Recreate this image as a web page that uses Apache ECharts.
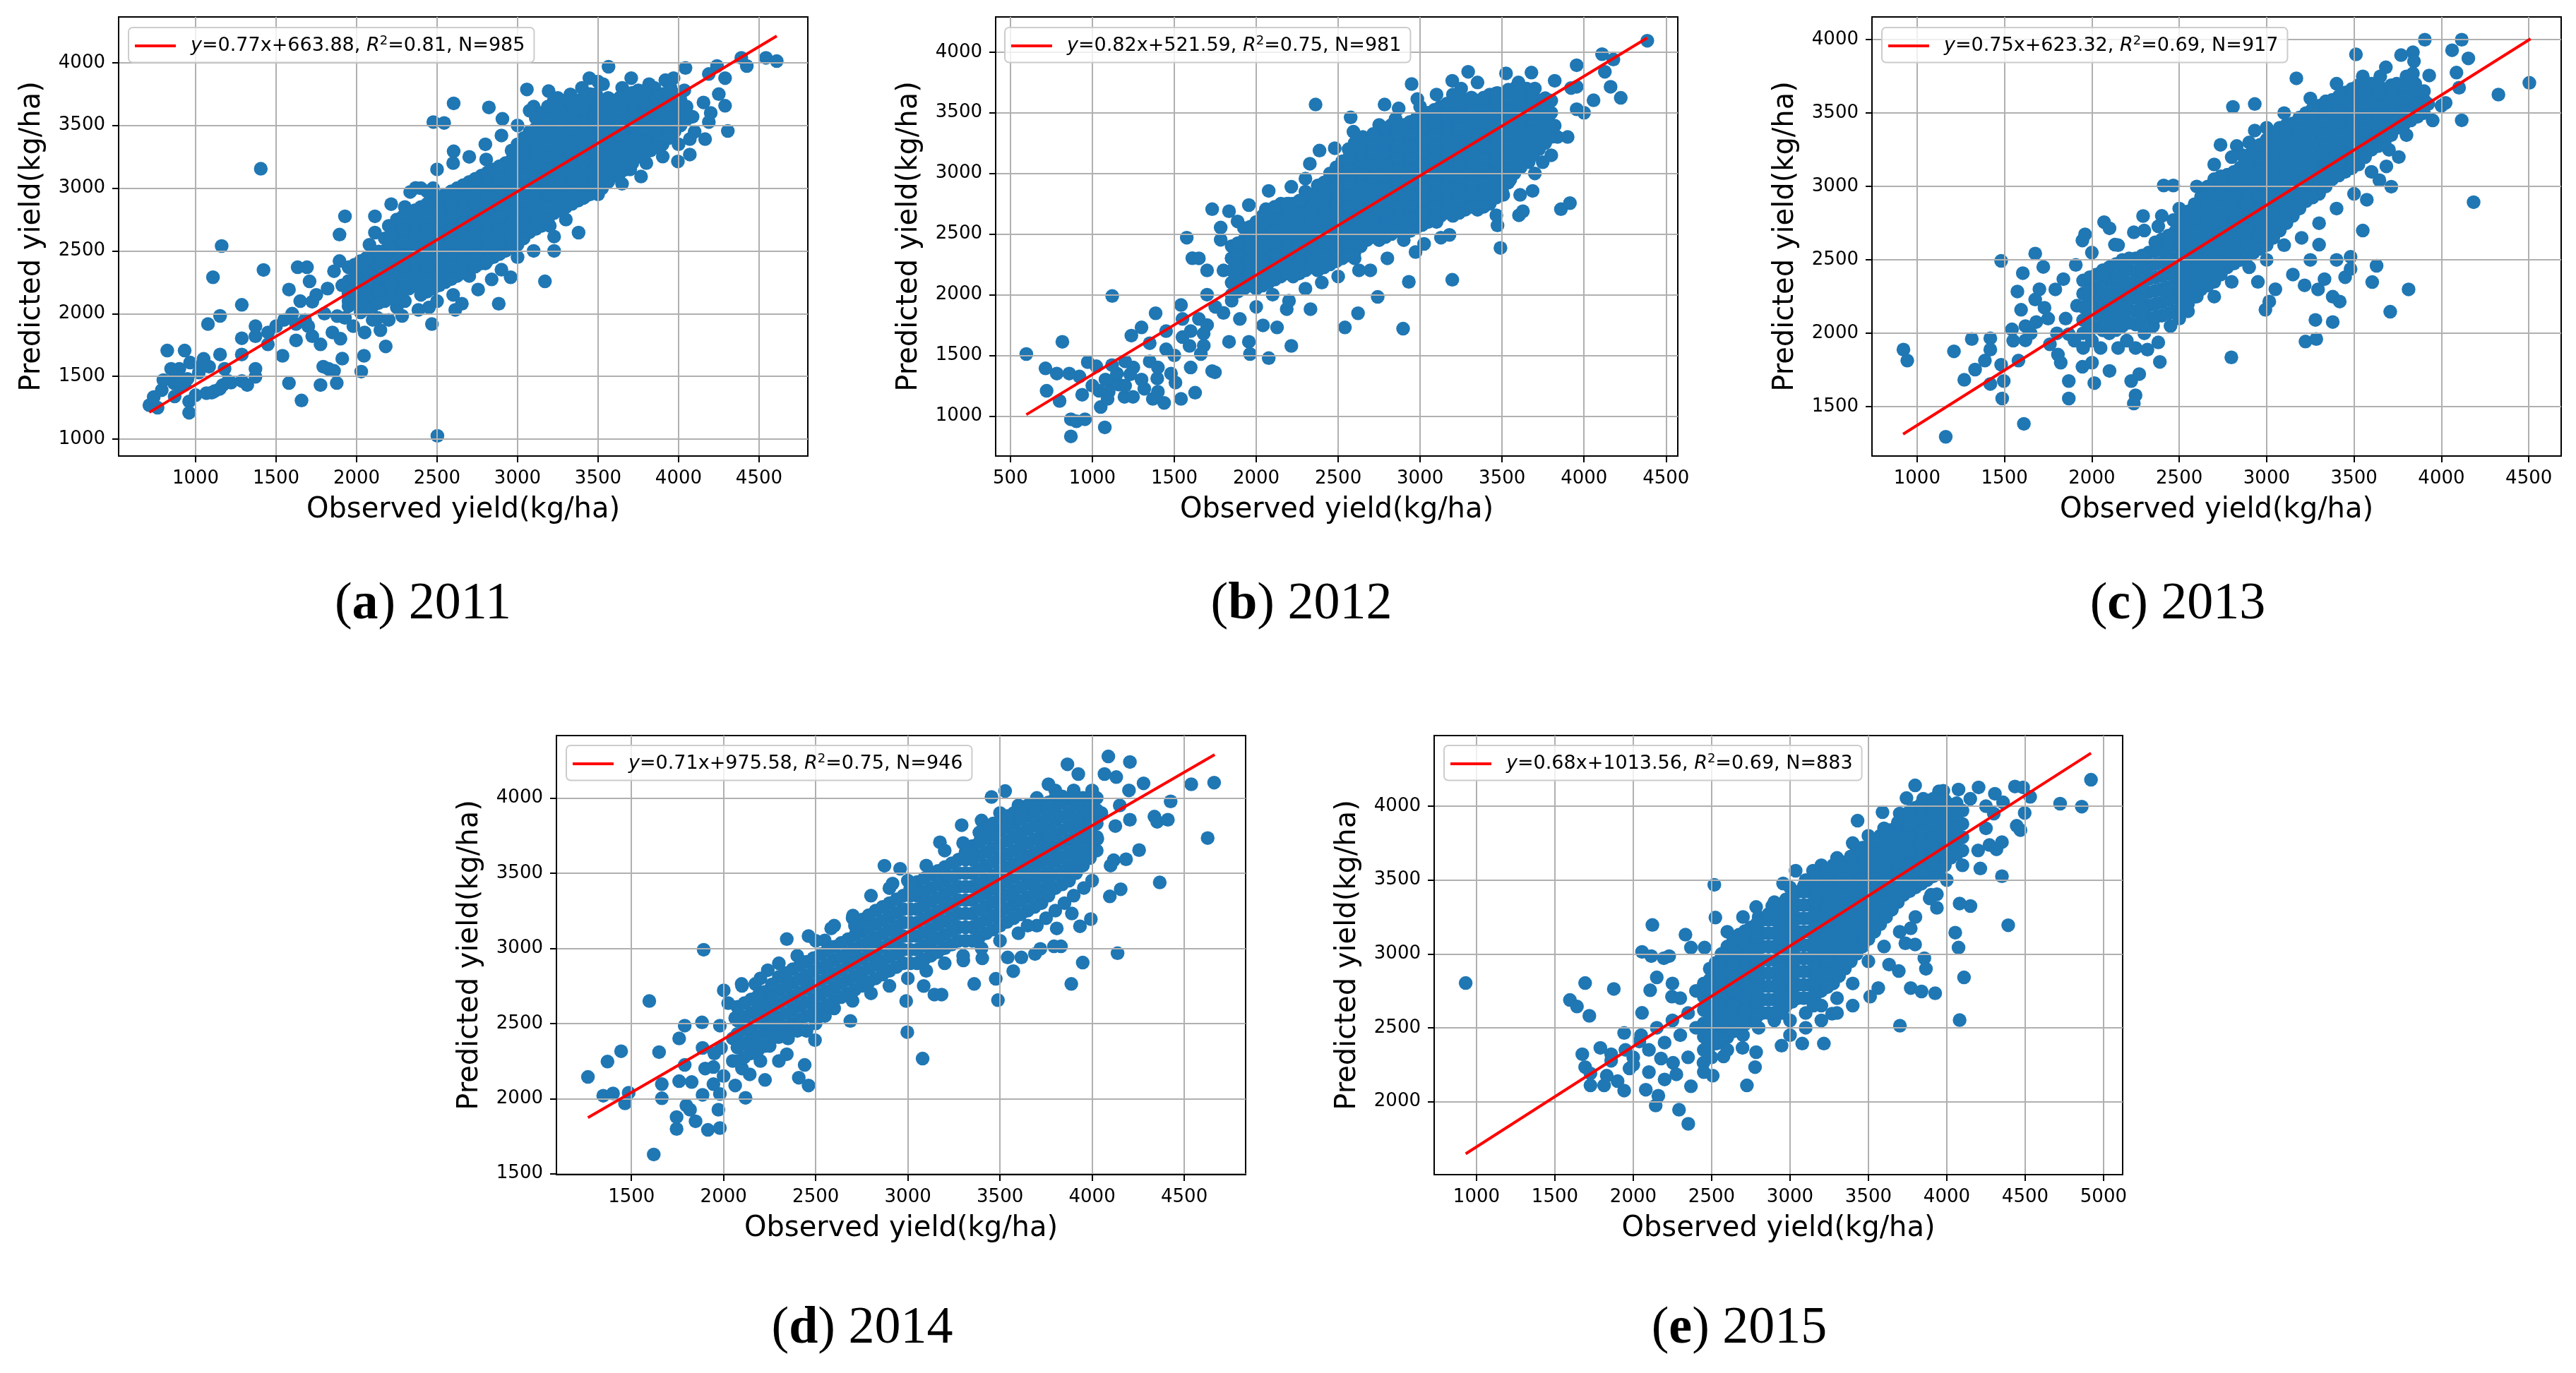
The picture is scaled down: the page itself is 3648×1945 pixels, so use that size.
<!DOCTYPE html>
<html lang="en">
<head>
<meta charset="UTF-8">
<title>Observed vs predicted yield</title>
<style>
    * { margin: 0; padding: 0; }
    body { background: #fff; }
    #main { width: 3648px; height: 1945px; }
</style>
<script src="https://cdn.jsdelivr.net/npm/echarts@6.0.0/dist/echarts.min.js"></script>
</head>
<body>
<div id="main"></div>
<script>
// ---------- values ----------
var years = ['2011', '2012', '2013', '2014', '2015'];
var letters = ['a', 'b', 'c', 'd', 'e'];
var fitText = ['0.77x+663.88', '0.82x+521.59', '0.75x+623.32', '0.71x+975.58', '0.68x+1013.56'];
var r2Text = ['0.81', '0.75', '0.69', '0.75', '0.69'];
var counts = [985, 981, 917, 946, 883];
// ends of the red fit line, [x0, x1] and [y0, y1]
var lineX = [[713, 4610], [597, 4385], [920, 4510], [1264, 4665], [931, 4920]];
var lineY = [[1213, 4213], [1011, 4117], [1313, 4006], [1873, 4288], [1647, 4359]];
var xTicks = [
    [1000, 1500, 2000, 2500, 3000, 3500, 4000, 4500],
    [500, 1000, 1500, 2000, 2500, 3000, 3500, 4000, 4500],
    [1000, 1500, 2000, 2500, 3000, 3500, 4000, 4500],
    [1500, 2000, 2500, 3000, 3500, 4000, 4500],
    [1000, 1500, 2000, 2500, 3000, 3500, 4000, 4500, 5000]
];
var yTicks = [
    [1000, 1500, 2000, 2500, 3000, 3500, 4000],
    [1000, 1500, 2000, 2500, 3000, 3500, 4000],
    [1500, 2000, 2500, 3000, 3500, 4000],
    [1500, 2000, 2500, 3000, 3500, 4000],
    [2000, 2500, 3000, 3500, 4000]
];

// loose points [observed, predicted]
var pts2011 = [[713,1270],[740,1335],[764,1250],[824,1706],[932,1706],[848,1560],[899,1560],[966,1610],[865,1447],[932,1431],[960,1300],[960,1210],[1050,1640],[1084,1577],[1067,1366],[1118,1382],[1108,2290],[1162,2539],[1152,1982],[1077,1917],[1152,1674],[1169,1431],[1203,1463],[1287,2070],[1287,1804],[1287,1674],[1287,1463],[1321,1431],[1372,1496],[1372,1560],[1372,1900],[1372,1820],[1405,3155],[1422,2348],[1449,1755],[1500,1900],[1540,1664],[1580,1447],[1580,2192],[1634,2370],[1624,1917],[1624,1787],[1658,1308],[1692,2370],[1708,2257],[1725,2095],[1725,1820],[1776,1431],[1776,1755],[1793,1577],[1826,1560],[1860,1544],[1877,1447],[1860,2338],[1894,2630],[1928,2776],[1894,2419],[1911,2225],[1911,1641],[1928,1966],[1995,2290],[2029,1538],[2046,1664],[2080,2549],[2114,2776],[2114,2646],[2131,1966],[2148,1868],[2181,1739],[2215,2873],[2283,1982],[2333,2970],[2367,3002],[2384,2030],[2468,1917],[2502,1026],[2477,3527],[2544,3520],[2603,3676],[2603,3294],[2613,2030],[2654,2079],[2755,2192],[2822,3644],[2805,3229],[2839,2273],[2883,2079],[2906,3553],[2957,2290],[3170,2257],[3227,2614],[3227,2500],[3379,2646],[3406,2921],[3531,3067],[3565,3968],[3649,3035],[3767,3093],[3902,3252],[3996,3213],[4043,3958],[4070,3268],[4070,3391],[4087,3569],[4155,3683],[4165,3391],[4188,3527],[4239,3974],[4289,3657],[4306,3456],[4289,3877],[4188,3910],[4390,4039],[4424,3974],[4543,4039],[4610,4013],[3969,3877],[4036,3780],[3918,3861],[3817,3829],[3706,3877],[3446,3877],[3531,3829],[3328,3748],[3193,3774],[3058,3787],[3075,3618],
    [790,1390],[870,1340],[900,1420],[1000,1350],[1020,1530],[1100,1370],[1150,1400],[800,1470],[1030,1580],[880,1500],[1220,1450],[1180,1560],[950,1480],
    [1600,2000],[1680,1950],[1750,2150],[1800,2000],[1850,1850],[1900,1800],[1950,2100],[1820,2200],[1650,2100],[1550,1950],[1450,1850],[1700,1900],[1880,1980],[1980,1900],[2050,1850],[2100,1950],[2200,1950],[2250,2050],[2300,2100],[2450,2050],[2500,2100],[2600,2150],[2700,2300],[2800,2400],[2900,2350],[3000,2450],[3100,2500],[3200,2700],[3300,2750],[3500,2950],[3600,3100],[3700,3150],[3800,3200],[3900,3350],[4000,3350],[4100,3450],[4200,3600],[4250,3750],[2200,2700],[2300,2850],[2400,3000],[2500,3150],[2600,3200],[2700,3250],[2800,3350],[2900,3420],[3000,3500],[3100,3650],[3250,3720],[3400,3800],[3500,3850],[3650,3800],[3750,3780],[3850,3800],[3950,3800]];
var pts2012 = [[597,1511],[714,1393],[721,1208],[783,1350],[800,1124],[817,1612],[859,1350],[869,973],[869,832],[903,956],[938,1175],[955,973],[972,1444],[921,1326],[1024,1410],[1041,1208],[1051,1074],[1076,906],[1093,1141],[1121,1989],[1128,1293],[1162,1259],[1196,1158],[1231,1343],[1248,1158],[1238,1663],[1300,1730],[1317,1225],[1369,1141],[1386,1847],[1396,1309],[1438,1108],[1507,1276],[1541,1141],[1541,1915],[1576,2470],[1593,1578],[1627,1192],[1610,2301],[1662,1511],[1679,1679],[1731,1370],[1748,1360],[1731,2705],[1783,2554],[1783,2453],[1834,2688],[1834,1612],[1886,2604],[1955,2739],[1938,2419],[1955,1612],[1962,1511],[2041,1747],[2076,1477],[2076,2856],[2059,2705],[2127,1730],[2214,1578],[2186,1881],[2214,2890],[2300,2957],[2327,3080],[2362,3568],[2331,1881],[2386,3188],[2479,3208],[2541,1730],[2621,1847],[2576,3462],[2627,2201],[2696,2201],[2741,1982],[2783,3568],[2869,3536],[2896,1720],[2931,2106],[2948,3737],[2983,3613],[2972,2352],[3024,2419],[3196,2123],[3127,2470],[3179,2493],[3293,3838],[3196,3764],[3490,2386],[3472,2571],[3465,2655],[3507,2823],[3524,3825],[3576,3058],[3603,2655],[3627,2688],[3610,2823],[3662,3092],[3686,2856],[3748,3092],[3627,3226],[3859,2705],[3914,2755],[3955,3714],[3955,3529],[3955,3892],[3921,3704],[4058,3603],[4110,3983],[4127,3838],[4162,3714],[4179,3939],[4224,3623],[4386,4094],[3838,3300],[3821,3394],[3769,3596],[3821,3764],[3679,3831],[2593,3344],[2748,3092],[3403,3596],[3472,3663],
    [1000,1250],[1080,1300],[1100,1200],[1150,1350],[1200,1250],[1250,1400],[1300,1300],[1350,1450],[1400,1400],[1450,1550],[1500,1500],[1550,1650],[1600,1700],[1650,1800],[1700,1750],[1750,1900],[1800,1850],[1850,1950],[1700,2000],[1800,2200],[1850,2300],[1900,2100],[1650,2300],[1700,2200],[1550,1800],[1450,1700],[1350,1600],[1200,1450],[1120,1420],[1400,1200],[1480,1350],[1600,1400],[1680,1580],[1900,1800],[2000,1900],[2100,2000],[2200,1950],[2300,2050],[2400,2100],[2500,2150],[2600,2300],[2800,2300],[2900,2450],[3100,2600],[3300,2750],[3400,2800],[3550,2950],[3700,3000],[3800,3150],[3900,3300],[4000,3500],[2000,2600],[2100,2700],[2200,2750],[2300,2850],[2450,3000],[2650,3300],[2750,3400],[2850,3450],[3000,3550],[3100,3650],[3250,3700],[3350,3750],[3600,3750],[3700,3700]];
var pts2013 = [[922,1889],[944,1814],[1164,1295],[1211,1877],[1270,1683],[1313,1961],[1332,1753],[1388,1814],[1419,1966],[1419,1889],[1419,1655],[1481,2493],[1481,1786],[1487,1556],[1496,1675],[1543,2027],[1580,1814],[1574,2285],[1595,2160],[1605,2410],[1611,1383],[1620,2049],[1620,1952],[1676,2230],[1676,2543],[1682,2077],[1722,2452],[1729,2174],[1760,1925],[1791,2299],[1806,1855],[1822,1800],[1837,2369],[1868,1994],[1868,1556],[1868,1675],[1908,2466],[1915,2188],[1946,2632],[1961,2674],[1946,1772],[2014,1661],[2001,1800],[2070,2757],[2101,2715],[2101,1744],[2132,2604],[2225,1675],[2240,1522],[2250,1578],[2271,1722],[2240,2688],[2293,2799],[2380,2729],[2389,1805],[2380,1938],[2318,1889],[2411,3007],[2466,3007],[2466,2771],[2798,1836],[2807,3542],[2932,3562],[2932,3381],[2736,3284],[2829,3276],[2857,3215],[2993,2160],[3015,2216],[3170,3737],[3217,2327],[3222,1944],[3279,2091],[3284,1961],[3294,2299],[3300,2604],[3331,2369],[3378,2249],[3378,2077],[3418,2216],[3449,2382],[3480,2521],[3480,2438],[3511,3900],[3604,2349],[3629,2460],[3707,2147],[3812,2299],[3713,2999],[3645,3043],[3573,2910],[3685,3137],[3756,3201],[3769,3895],[3837,3914],[3905,4000],[3843,3853],[3837,3770],[3930,3756],[3924,3562],[4024,3570],[4061,3928],[4116,4000],[4086,3776],[4154,3873],[4101,3673],[4116,3451],[4184,2893],[4326,3626],[4503,3706],[3682,3812],[3744,3700],
    [1800,2000],[1750,2100],[1850,2100],[1900,1950],[1950,1900],[2000,1950],[2050,1900],[2150,1900],[2200,1950],[2250,1900],[2300,2000],[2350,2050],[2450,2050],[2500,2100],[2550,2150],[2600,2250],[2700,2250],[2800,2350],[2900,2450],[3000,2500],[3100,2600],[3200,2650],[3300,2750],[3400,2850],[3500,2950],[3600,3100],[3700,3250],[3800,3350],[3950,3450],[4000,3550],[2000,2550],[2150,2600],[2300,2700],[2400,2800],[2500,2850],[2600,3000],[2700,3150],[2800,3200],[2900,3300],[3000,3400],[3100,3500],[3250,3600],[3400,3700],[3550,3750],[3650,3750],[3800,3750],[3850,3700],[1700,2300],[1650,2000],[1550,1950],[3550,2700],[3400,2500],[3250,2500],[3150,2400],[3050,2300],[2950,2350]];
var pts2014 = [[1264,2144],[1347,2019],[1370,2246],[1400,2034],[1444,2315],[1465,1968],[1485,2039],[1597,2649],[1621,1628],[1650,2309],[1665,2096],[1665,2002],[1745,1798],[1745,1877],[1759,2400],[1759,2116],[1789,2485],[1789,2224],[1798,1954],[1818,1926],[1827,2110],[1848,1849],[1892,2990],[1883,2507],[1886,2025],[1886,2337],[1915,1792],[1945,2210],[1945,2096],[1972,1926],[1980,2485],[1980,1804],[1980,2031],[1986,2337],[2001,2720],[2025,2635],[2063,2087],[2063,2536],[2098,2763],[2119,2005],[2142,2161],[2172,2763],[2181,2337],[2225,2124],[2240,2854],[2233,2664],[2299,2408],[2343,2295],[2343,3061],[2408,2139],[2440,2224],[2461,2087],[2461,3081],[2496,2389],[2549,3052],[2584,3132],[2688,2516],[2702,3217],[2873,3549],[2958,3529],[2917,3430],[2997,2442],[2991,2649],[3080,2266],[3086,2749],[3144,2692],[3174,3705],[3183,2692],[3292,3819],[3301,2919],[3360,2763],[3404,2933],[3477,2797],[3489,2655],[3454,4006],[3528,4046],[3542,2939],[3572,2848],[3616,2939],[3690,2962],[3719,2996],[3763,4091],[3793,3013],[3831,3013],[3808,3132],[3866,4224],[3925,4159],[3890,3231],[3934,3146],[3949,2905],[3887,2763],[3993,3194],[3955,3401],[4067,4159],[4088,4276],[4096,3345],[4117,3586],[4138,2967],[4155,3393],[4184,3592],[4205,4239],[4205,3855],[4255,3653],[4279,4097],[4338,3876],[4353,3841],[4367,3438],[4411,3855],[4426,3977],[4538,4091],[4627,3733],[4662,4102],[4131,4139],[4028,3728],[4126,3813],
    [1900,2200],[1950,2300],[2000,2150],[2050,2250],[2050,2400],[2100,2200],[2150,2450],[2200,2250],[2250,2350],[2300,2250],[2350,2400],[2400,2450],[2450,2450],[2500,2500],[2550,2550],[2600,2600],[2700,2650],[2800,2700],[2900,2750],[3000,2800],[3100,2850],[3200,2900],[3300,2950],[3400,3000],[3500,3050],[3600,3100],[3700,3150],[3800,3250],[3900,3350],[4000,3450],[4100,3550],[4050,3900],[4150,3950],[4200,4050],[2100,2750],[2200,2800],[2300,2900],[2400,2950],[2500,3050],[2600,3150],[2700,3200],[2800,3350],[2900,3400],[3000,3450],[3100,3550],[3200,3650],[3300,3700],[3400,3850],[3500,3900],[3600,3950],[3700,4000],[3800,4050],[3900,4050],[4000,4050],[3750,3200],[3850,3300],[3650,3150]];
var pts2015 = [[931,2803],[1596,2688],[1641,2644],[1675,2321],[1693,2803],[1720,2581],[1693,2234],[1727,2191],[1727,2110],[1790,2364],[1814,2110],[1831,2176],[1859,2277],[1859,2321],[1876,2763],[1900,2139],[1942,2075],[1942,2465],[1976,2225],[2039,2407],[2056,2601],[2056,3014],[2080,2081],[2108,2754],[2115,2985],[2122,3196],[2143,1974],[2150,2841],[2160,2040],[2177,2292],[2195,2971],[2229,2985],[2247,2711],[2254,2263],[2275,2185],[2292,1945],[2333,3130],[2351,1850],[2368,2104],[2368,3043],[2448,2263],[2455,3043],[2507,2176],[2517,3468],[2524,3246],[2531,2393],[2576,2306],[2600,2436],[2697,2364],[2725,2110],[2777,2234],[2784,2335],[2784,3318],[2887,3324],[2946,2379],[2956,3477],[3036,3563],[3078,2393],[3216,2393],[3147,3563],[3268,2595],[3431,3902],[3511,2711],[3563,2769],[3590,3959],[3632,2928],[3694,2884],[3701,2514],[3770,2769],[3736,3072],[3798,3064],[3770,3173],[3839,2746],[3857,2971],[3867,2899],[3926,2734],[3937,3312],[3937,3404],[3891,3376],[4054,3144],[4075,3043],[4082,2552],[4110,2841],[4082,3341],[4151,3324],[4214,3578],[4352,3526],[4392,3194],[4352,3757],[4446,3867],[4470,3838],[4497,3954],[4532,4063],[4435,4133],[4487,4127],[4723,4017],[4861,3997],[4920,4179],[3798,4141],[4075,4113],[4203,4127],[4307,4084],[4359,4026],[4272,3737],[4317,3708],[3743,4055],[3978,4104],
    [2000,2300],[2050,2450],[2100,2350],[2150,2500],[2200,2400],[2250,2550],[2300,2450],[2350,2600],[2400,2500],[2250,2800],[2300,2700],[2400,2750],[2350,2300],[2200,2150],[2100,2200],[2000,2250],[1950,2350],[2450,2200],[2500,2300],[2600,2350],[2700,2450],[2800,2500],[2900,2550],[3000,2550],[3100,2600],[3200,2650],[3300,2700],[3400,2800],[3500,2950],[3600,3050],[3700,3150],[3800,3250],[3900,3400],[4000,3500],[4100,3600],[4200,3700],[4250,3850],[4300,3950],[4150,4050],[4250,4000],[2600,3150],[2700,3250],[2800,3250],[2900,3350],[3000,3450],[3100,3500],[3200,3600],[3300,3650],[3400,3750],[3500,3800],[3600,3850],[3700,3950],[3850,4050],[3950,4100],[3000,2450],[3100,2500],[3200,2550],[3300,2600],[3400,2650],[2950,2600],[3150,2650]];

// dense, fully overlapped band: each row is [observed, predicted, predicted, ...]
var core2011 = [
    [1950, 2060,2160,2260,2370],
    [2025, 2010,2110,2215,2320,2420],
    [2100, 2060,2160,2265,2370,2470],
    [2175, 2100,2200,2300,2400,2500,2600],
    [2250, 2150,2250,2350,2450,2550,2650,2750],
    [2325, 2200,2300,2400,2500,2600,2700,2800],
    [2400, 2150,2250,2350,2450,2550,2650,2750,2850],
    [2475, 2200,2300,2400,2500,2600,2700,2800,2900,3000],
    [2550, 2250,2350,2450,2550,2650,2750,2850,2950],
    [2625, 2300,2400,2500,2600,2700,2800,2900,3000],
    [2700, 2350,2450,2550,2650,2750,2850,2950,3050],
    [2775, 2400,2500,2600,2700,2800,2900,3000,3100],
    [2850, 2450,2550,2650,2750,2850,2950,3050,3150],
    [2925, 2500,2600,2700,2800,2900,3000,3100,3200],
    [3000, 2550,2650,2750,2850,2950,3050,3150,3250,3350],
    [3075, 2650,2750,2850,2950,3050,3150,3250,3350,3450],
    [3150, 2700,2800,2900,3000,3100,3200,3300,3400,3500,3600],
    [3225, 2800,2900,3000,3100,3200,3300,3400,3500,3600,3700],
    [3300, 2850,2950,3050,3150,3250,3350,3450,3550,3650],
    [3375, 2900,3000,3100,3200,3300,3400,3500,3600,3700],
    [3450, 2950,3050,3150,3250,3350,3450,3550,3650,3750],
    [3525, 3000,3100,3200,3300,3400,3500,3600,3700],
    [3600, 3100,3200,3300,3400,3500,3600,3700],
    [3675, 3150,3250,3350,3450,3550,3650,3750],
    [3750, 3250,3350,3450,3550,3650,3750],
    [3825, 3300,3400,3500,3600,3700,3800],
    [3900, 3350,3450,3550,3650,3750],
    [3975, 3450,3550,3650,3750],
    [4050, 3550,3650],
    [1988, 2085,2185,2285,2390],
    [2063, 2035,2135,2240,2345,2445],
    [2138, 2085,2185,2290,2395,2495],
    [2213, 2125,2225,2325,2425,2525,2625],
    [2288, 2175,2275,2375,2475,2575,2675,2775],
    [2363, 2225,2325,2425,2525,2625,2725,2825],
    [2438, 2175,2275,2375,2475,2575,2675,2775,2875,2975],
    [2513, 2225,2325,2425,2525,2625,2725,2825,2925],
    [2588, 2275,2375,2475,2575,2675,2775,2875,2975],
    [2663, 2325,2425,2525,2625,2725,2825,2925,3025],
    [2738, 2375,2475,2575,2675,2775,2875,2975,3075],
    [2813, 2425,2525,2625,2725,2825,2925,3025,3125],
    [2888, 2475,2575,2675,2775,2875,2975,3075,3175],
    [2963, 2525,2625,2725,2825,2925,3025,3125,3225,3300],
    [3038, 2600,2700,2800,2900,3000,3100,3200,3300,3400],
    [3113, 2675,2775,2875,2975,3075,3175,3275,3375,3475,3560],
    [3188, 2750,2850,2950,3050,3150,3250,3350,3450,3550,3650],
    [3263, 2825,2925,3025,3125,3225,3325,3425,3525,3625,3700],
    [3338, 2875,2975,3075,3175,3275,3375,3475,3575,3675],
    [3413, 2925,3025,3125,3225,3325,3425,3525,3625,3725],
    [3488, 2975,3075,3175,3275,3375,3475,3575,3675,3750],
    [3563, 3050,3150,3250,3350,3450,3550,3650,3720],
    [3638, 3125,3225,3325,3425,3525,3625,3725],
    [3713, 3200,3300,3400,3500,3600,3700,3760],
    [3788, 3275,3375,3475,3575,3675,3775],
    [3863, 3325,3425,3525,3625,3725],
    [3938, 3400,3500,3600,3700,3770],
    [4013, 3500,3600,3700]
];
var core2012 = [
    [1850, 2000,2100,2200,2300,2400],
    [1925, 2050,2150,2250,2350,2450,2550],
    [2000, 2050,2150,2250,2350,2450,2550],
    [2075, 2100,2200,2300,2400,2500,2600,2700],
    [2150, 2150,2250,2350,2450,2550,2650,2750],
    [2225, 2150,2250,2350,2450,2550,2650,2750],
    [2300, 2200,2300,2400,2500,2600,2700,2800],
    [2375, 2200,2300,2400,2500,2600,2700,2800,2900],
    [2450, 2250,2350,2450,2550,2650,2750,2850,2950],
    [2525, 2300,2400,2500,2600,2700,2800,2900,3000,3100],
    [2600, 2350,2450,2550,2650,2750,2850,2950,3050,3150,3250],
    [2675, 2450,2550,2650,2750,2850,2950,3050,3150,3250],
    [2750, 2450,2550,2650,2750,2850,2950,3050,3150,3250,3350],
    [2825, 2500,2600,2700,2800,2900,3000,3100,3200,3300,3400],
    [2900, 2500,2600,2700,2800,2900,3000,3100,3200,3300,3400],
    [2975, 2550,2650,2750,2850,2950,3050,3150,3250,3350,3450],
    [3050, 2600,2700,2800,2900,3000,3100,3200,3300,3400,3500],
    [3125, 2650,2750,2850,2950,3050,3150,3250,3350,3450,3550],
    [3200, 2650,2750,2850,2950,3050,3150,3250,3350,3450,3550,3650],
    [3275, 2700,2800,2900,3000,3100,3200,3300,3400,3500,3600],
    [3350, 2700,2800,2900,3000,3100,3200,3300,3400,3500,3600],
    [3425, 2750,2850,2950,3050,3150,3250,3350,3450,3550,3650],
    [3500, 2850,2950,3050,3150,3250,3350,3450,3550,3650],
    [3575, 3000,3100,3200,3300,3400,3500,3600,3700],
    [3650, 3100,3200,3300,3400,3500,3600,3700],
    [3725, 3200,3300,3400,3500,3600],
    [3800, 3300,3400,3500,3600],
    [1888, 2025,2125,2225,2325,2425],
    [1963, 2075,2175,2275,2375,2475,2560],
    [2038, 2075,2175,2275,2375,2475,2575,2650],
    [2113, 2125,2225,2325,2425,2525,2625,2725],
    [2188, 2175,2275,2375,2475,2575,2675,2750],
    [2263, 2175,2275,2375,2475,2575,2675,2775],
    [2338, 2225,2325,2425,2525,2625,2725,2825],
    [2413, 2225,2325,2425,2525,2625,2725,2825,2925],
    [2488, 2275,2375,2475,2575,2675,2775,2875,2975,3050],
    [2563, 2325,2425,2525,2625,2725,2825,2925,3025,3125,3200],
    [2638, 2400,2500,2600,2700,2800,2900,3000,3100,3200,3275],
    [2713, 2475,2575,2675,2775,2875,2975,3075,3175,3275,3325],
    [2788, 2475,2575,2675,2775,2875,2975,3075,3175,3275,3375],
    [2863, 2525,2625,2725,2825,2925,3025,3125,3225,3325,3400],
    [2938, 2525,2625,2725,2825,2925,3025,3125,3225,3325,3425],
    [3013, 2575,2675,2775,2875,2975,3075,3175,3275,3375,3475],
    [3088, 2625,2725,2825,2925,3025,3125,3225,3325,3425,3525],
    [3163, 2675,2775,2875,2975,3075,3175,3275,3375,3475,3575],
    [3238, 2675,2775,2875,2975,3075,3175,3275,3375,3475,3575,3640],
    [3313, 2725,2825,2925,3025,3125,3225,3325,3425,3525,3625],
    [3388, 2725,2825,2925,3025,3125,3225,3325,3425,3525,3625],
    [3463, 2800,2900,3000,3100,3200,3300,3400,3500,3600,3660],
    [3538, 2925,3025,3125,3225,3325,3425,3525,3625,3690],
    [3613, 3050,3150,3250,3350,3450,3550,3650,3700],
    [3688, 3150,3250,3350,3450,3550,3650],
    [3763, 3250,3350,3450,3550,3620]
];
var core2013 = [
    [1950, 2000,2090,2180,2270,2360],
    [2025, 2040,2130,2220,2310,2400],
    [2100, 2000,2090,2180,2270,2360,2450],
    [2175, 2050,2140,2230,2320,2410,2500],
    [2250, 2060,2150,2240,2330,2420,2510],
    [2325, 2100,2190,2280,2370,2460,2550],
    [2400, 2120,2210,2300,2390,2480,2570,2640],
    [2475, 2150,2240,2330,2420,2510,2600,2690],
    [2550, 2200,2290,2380,2470,2560,2650,2740,2830],
    [2625, 2300,2390,2480,2570,2660,2750,2840,2930],
    [2700, 2350,2440,2530,2620,2710,2800,2890,2980,3050],
    [2775, 2450,2540,2630,2720,2810,2900,2990,3080],
    [2850, 2500,2590,2680,2770,2860,2950,3040,3130],
    [2925, 2550,2640,2730,2820,2910,3000,3090,3180,3250],
    [3000, 2600,2690,2780,2870,2960,3050,3140,3230,3320],
    [3075, 2700,2790,2880,2970,3060,3150,3240,3330,3400],
    [3150, 2800,2890,2980,3070,3160,3250,3340,3430],
    [3225, 2900,2990,3080,3170,3260,3350,3440,3500],
    [3300, 2950,3040,3130,3220,3310,3400,3490,3550],
    [3375, 3050,3140,3230,3320,3410,3500,3590],
    [3450, 3100,3190,3280,3370,3460,3550,3640],
    [3525, 3150,3240,3330,3420,3510,3600,3690],
    [3600, 3250,3340,3430,3520,3610,3700],
    [3675, 3300,3390,3480,3570,3660],
    [3750, 3400,3490,3580,3670],
    [3825, 3450,3540,3630,3700],
    [3900, 3500,3590,3650],
    [1988, 2022,2112,2202,2292,2382],
    [2063, 2020,2110,2200,2290,2380,2430],
    [2138, 2022,2112,2202,2292,2382,2472],
    [2213, 2072,2162,2252,2342,2432,2510],
    [2288, 2082,2172,2262,2352,2442,2530],
    [2363, 2110,2200,2290,2380,2470,2560,2620],
    [2438, 2135,2225,2315,2405,2495,2585,2665],
    [2513, 2175,2265,2355,2445,2535,2625,2715,2780],
    [2588, 2250,2340,2430,2520,2610,2700,2790,2880],
    [2663, 2325,2415,2505,2595,2685,2775,2865,2955,3000],
    [2738, 2400,2490,2580,2670,2760,2850,2940,3030,3070],
    [2813, 2475,2565,2655,2745,2835,2925,3015,3100],
    [2888, 2525,2615,2705,2795,2885,2975,3065,3155,3210],
    [2963, 2575,2665,2755,2845,2935,3025,3115,3205,3285],
    [3038, 2650,2740,2830,2920,3010,3100,3190,3280,3360],
    [3113, 2750,2840,2930,3020,3110,3200,3290,3380,3420],
    [3188, 2850,2940,3030,3120,3210,3300,3390,3470],
    [3263, 2925,3015,3105,3195,3285,3375,3465,3530],
    [3338, 3000,3090,3180,3270,3360,3450,3540,3580],
    [3413, 3075,3165,3255,3345,3435,3525,3615],
    [3488, 3125,3215,3305,3395,3485,3575,3665],
    [3563, 3200,3290,3380,3470,3560,3650,3700],
    [3638, 3275,3365,3455,3545,3635,3700],
    [3713, 3350,3440,3530,3620,3690],
    [3788, 3425,3515,3605,3690],
    [3863, 3475,3565,3650]
];
var core2014 = [
    [2075, 2250,2340,2430,2520,2610],
    [2150, 2300,2390,2480,2570,2660],
    [2225, 2350,2440,2530,2620,2710],
    [2300, 2450,2540,2630,2720,2810],
    [2375, 2500,2590,2680,2770,2860],
    [2450, 2550,2640,2730,2820,2910],
    [2525, 2600,2690,2780,2870,2960],
    [2600, 2650,2740,2830,2920,3010],
    [2675, 2700,2790,2880,2970,3060],
    [2750, 2750,2840,2930,3020,3110,3190],
    [2825, 2800,2890,2980,3070,3160,3250],
    [2900, 2850,2940,3030,3120,3210,3300],
    [2975, 2900,2990,3080,3170,3260,3350],
    [3050, 2900,2990,3080,3170,3260,3350,3440],
    [3125, 2950,3040,3130,3220,3310,3400,3490],
    [3200, 3000,3090,3180,3270,3360,3450,3540],
    [3275, 3050,3140,3230,3320,3410,3500,3590],
    [3350, 3050,3140,3230,3320,3410,3500,3590,3680],
    [3425, 3100,3190,3280,3370,3460,3550,3640,3730,3800],
    [3500, 3150,3240,3330,3420,3510,3600,3690,3780,3850],
    [3575, 3200,3290,3380,3470,3560,3650,3740,3830,3900],
    [3650, 3250,3340,3430,3520,3610,3700,3790,3880,3950],
    [3725, 3300,3390,3480,3570,3660,3750,3840,3930],
    [3800, 3400,3490,3580,3670,3760,3850,3940,4000],
    [3875, 3450,3540,3630,3720,3810,3900,3990],
    [3950, 3550,3640,3730,3820,3910,4000],
    [4025, 3650,3740,3830,3920,4000],
    [2113, 2275,2365,2455,2545,2635],
    [2188, 2325,2415,2505,2595,2685],
    [2263, 2400,2490,2580,2670,2760],
    [2338, 2475,2565,2655,2745,2835],
    [2413, 2525,2615,2705,2795,2885],
    [2488, 2575,2665,2755,2845,2935],
    [2563, 2625,2715,2805,2895,2985],
    [2638, 2675,2765,2855,2945,3035],
    [2713, 2725,2815,2905,2995,3085,3150],
    [2788, 2775,2865,2955,3045,3135,3220],
    [2863, 2825,2915,3005,3095,3185,3275],
    [2938, 2875,2965,3055,3145,3235,3325],
    [3013, 2900,2990,3080,3170,3260,3350,3400],
    [3088, 2925,3015,3105,3195,3285,3375,3465],
    [3163, 2975,3065,3155,3245,3335,3425,3515],
    [3238, 3025,3115,3205,3295,3385,3475,3565],
    [3313, 3050,3140,3230,3320,3410,3500,3590,3640],
    [3388, 3075,3165,3255,3345,3435,3525,3615,3705,3770],
    [3463, 3125,3215,3305,3395,3485,3575,3665,3755,3830],
    [3538, 3175,3265,3355,3445,3535,3625,3715,3805,3880],
    [3613, 3225,3315,3405,3495,3585,3675,3765,3855,3925],
    [3688, 3275,3365,3455,3545,3635,3725,3815,3905,3950],
    [3763, 3350,3440,3530,3620,3710,3800,3890,3970],
    [3838, 3425,3515,3605,3695,3785,3875,3965,4010],
    [3913, 3500,3590,3680,3770,3860,3950,4010],
    [3988, 3600,3690,3780,3870,3960,4010]
];
var core2015 = [
    [2450, 2350,2440,2530,2620,2710,2800],
    [2525, 2400,2490,2580,2670,2760,2850,2940],
    [2600, 2450,2540,2630,2720,2810,2900,2990,3050],
    [2675, 2500,2590,2680,2770,2860,2950,3040,3130],
    [2750, 2550,2640,2730,2820,2910,3000,3090,3180],
    [2825, 2600,2690,2780,2870,2960,3050,3140,3230],
    [2900, 2600,2690,2780,2870,2960,3050,3140,3230,3300],
    [2975, 2650,2740,2830,2920,3010,3100,3190,3280,3370],
    [3050, 2700,2790,2880,2970,3060,3150,3240,3330,3420],
    [3125, 2700,2790,2880,2970,3060,3150,3240,3330,3420,3500],
    [3200, 2750,2840,2930,3020,3110,3200,3290,3380,3470,3550],
    [3275, 2800,2890,2980,3070,3160,3250,3340,3430,3520,3600],
    [3350, 2900,2990,3080,3170,3260,3350,3440,3530,3620],
    [3425, 3000,3090,3180,3270,3360,3450,3540,3630,3700],
    [3500, 3100,3190,3280,3370,3460,3550,3640,3730],
    [3575, 3200,3290,3380,3470,3560,3650,3740,3800],
    [3650, 3300,3390,3480,3570,3660,3750,3840],
    [3725, 3400,3490,3580,3670,3760,3850,3940],
    [3800, 3450,3540,3630,3720,3810,3900,3990],
    [3875, 3500,3590,3680,3770,3860,3950,4040],
    [3950, 3550,3640,3730,3820,3910,4000,4050],
    [4025, 3650,3740,3830,3920,4010],
    [4100, 3700,3790,3880,3970],
    [2488, 2375,2465,2555,2645,2735,2825,2900],
    [2563, 2425,2515,2605,2695,2785,2875,2965,3000],
    [2638, 2475,2565,2655,2745,2835,2925,3015,3090],
    [2713, 2525,2615,2705,2795,2885,2975,3065,3155],
    [2788, 2575,2665,2755,2845,2935,3025,3115,3205],
    [2863, 2600,2690,2780,2870,2960,3050,3140,3230,3270],
    [2938, 2625,2715,2805,2895,2985,3075,3165,3255,3335],
    [3013, 2675,2765,2855,2945,3035,3125,3215,3305,3395],
    [3088, 2700,2790,2880,2970,3060,3150,3240,3330,3420,3460],
    [3163, 2725,2815,2905,2995,3085,3175,3265,3355,3445,3525],
    [3238, 2775,2865,2955,3045,3135,3225,3315,3405,3495,3575],
    [3313, 2850,2940,3030,3120,3210,3300,3390,3480,3570,3610],
    [3388, 2950,3040,3130,3220,3310,3400,3490,3580,3660],
    [3463, 3050,3140,3230,3320,3410,3500,3590,3680,3720],
    [3538, 3150,3240,3330,3420,3510,3600,3690,3770],
    [3613, 3250,3340,3430,3520,3610,3700,3790,3820],
    [3688, 3350,3440,3530,3620,3710,3800,3890],
    [3763, 3425,3515,3605,3695,3785,3875,3965],
    [3838, 3475,3565,3655,3745,3835,3925,4015],
    [3913, 3525,3615,3705,3795,3885,3975,4050],
    [3988, 3600,3690,3780,3870,3960,4040],
    [4063, 3675,3765,3855,3945,4020]
];

var loosePts = [pts2011, pts2012, pts2013, pts2014, pts2015];
var corePts = [core2011, core2012, core2013, core2014, core2015];

// ---------- layout (pixels) ----------
var panels = [
    { left: 168, top: 24, width: 976, height: 622, xMin: 522, xMax: 4803, yMin: 865, yMax: 4365, legend: [182, 39], caption: [599, 817] },
    { left: 1410, top: 24, width: 966, height: 622, xMin: 410, xMax: 4572, yMin: 670, yMax: 4290, legend: [1423, 39], caption: [1843, 817] },
    { left: 2651, top: 24, width: 976, height: 622, xMin: 742, xMax: 4685, yMin: 1164, yMax: 4155, legend: [2665, 39], caption: [3084, 817] },
    { left: 788, top: 1042, width: 976, height: 622, xMin: 1093, xMax: 4833, yMin: 1494, yMax: 4415, legend: [802, 1056], caption: [1221, 1843] },
    { left: 2031, top: 1042, width: 975, height: 622, xMin: 730, xMax: 5122, yMin: 1506, yMax: 4478, legend: [2045, 1056], caption: [2463, 1843] }
];

var sans = 'DejaVu Sans';
var serif = 'Liberation Serif';
var blue = '#1f77b4';

var chartDom = document.getElementById('main');
var myChart = echarts.init(chartDom, null, { renderer: 'canvas' });

var grid = [], xAxis = [], yAxis = [], series = [], legend = [], title = [];

function plainNumber(v) {
    return String(v);
}

panels.forEach(function (p, i) {
    grid.push({
        left: p.left, top: p.top, width: p.width, height: p.height,
        show: true, borderColor: '#000', borderWidth: 2, backgroundColor: 'transparent',
        containLabel: false, outerBoundsMode: 'none'
    });
    xAxis.push({
        gridIndex: i, type: 'value', min: p.xMin, max: p.xMax, z: 3,
        name: 'Observed yield(kg/ha)', nameLocation: 'middle', nameGap: 57,
        nameTextStyle: { fontFamily: sans, fontSize: 40, color: '#000' },
        axisLine: { show: true, onZero: false, lineStyle: { color: '#000', width: 2 } },
        axisTick: { show: true, length: 9, lineStyle: { color: '#000', width: 2 }, customValues: xTicks[i] },
        axisLabel: { fontFamily: sans, fontSize: 26, color: '#000', margin: 19, customValues: xTicks[i], formatter: plainNumber },
        splitLine: { show: true, lineStyle: { color: '#b0b0b0', width: 2 } }
    });
    yAxis.push({
        gridIndex: i, type: 'value', min: p.yMin, max: p.yMax, z: 3,
        name: 'Predicted yield(kg/ha)', nameLocation: 'middle', nameGap: 102,
        nameTextStyle: { fontFamily: sans, fontSize: 40, color: '#000' },
        axisLine: { show: true, onZero: false, lineStyle: { color: '#000', width: 2 } },
        axisTick: { show: true, length: 9, lineStyle: { color: '#000', width: 2 }, customValues: yTicks[i] },
        axisLabel: { fontFamily: sans, fontSize: 26, color: '#000', margin: 19, customValues: yTicks[i], formatter: plainNumber },
        splitLine: { show: true, lineStyle: { color: '#b0b0b0', width: 2 } }
    });

    // scatter points: loose ones plus the dense band
    var data = loosePts[i].slice();
    corePts[i].forEach(function (col) {
        col.slice(1).forEach(function (y) { data.push([col[0], y]); });
    });
    series.push({
        type: 'scatter', xAxisIndex: i, yAxisIndex: i, z: 2,
        symbol: 'circle', symbolSize: 19.5,
        itemStyle: { color: blue, opacity: 1 },
        emphasis: { disabled: true },
        data: data
    });

    var fitName = 'fit' + years[i];
    series.push({
        name: fitName, type: 'line', xAxisIndex: i, yAxisIndex: i, z: 4,
        symbol: 'none', silent: true,
        itemStyle: { color: '#ff0000' },
        lineStyle: { color: '#ff0000', width: 4 },
        data: [[lineX[i][0], lineY[i][0]], [lineX[i][1], lineY[i][1]]]
    });

    legend.push({
        data: [fitName], left: p.legend[0], top: p.legend[1], z: 10,
        icon: 'rect', itemWidth: 58, itemHeight: 4,
        padding: [10, 13, 10, 9],
        backgroundColor: 'rgba(255,255,255,0.8)', borderColor: '#cccccc', borderWidth: 2, borderRadius: 6,
        selectedMode: false,
        formatter: function () {
            return '{g|}{r|y}{t|=' + fitText[i] + ', }{r|R}{s|2}{t|=' + r2Text[i] + ', N=' + counts[i] + '}';
        },
        textStyle: {
            fontFamily: sans, fontSize: 27, color: '#000',
            rich: {
                g: { width: 16 },
                t: { fontFamily: sans, fontSize: 27, color: '#000', lineHeight: 32 },
                r: { fontFamily: sans, fontSize: 27, fontStyle: 'italic', color: '#000', lineHeight: 32 },
                s: { fontFamily: sans, fontSize: 18, color: '#000', verticalAlign: 'top', lineHeight: 18 }
            }
        }
    });

    title.push({
        text: '{p|(}{b|' + letters[i] + '}{p|) ' + years[i] + '}',
        left: p.caption[0], top: p.caption[1], textAlign: 'center', padding: 0,
        textStyle: {
            fontFamily: serif, fontSize: 74, fontWeight: 'normal', color: '#000',
            rich: {
                p: { fontFamily: serif, fontSize: 74, fontWeight: 'normal', color: '#000', lineHeight: 80 },
                b: { fontFamily: serif, fontSize: 74, fontWeight: 'bold', color: '#000', lineHeight: 80 }
            }
        }
    });
});

var option = {
    backgroundColor: '#ffffff',
    animation: false,
    title: title,
    legend: legend,
    grid: grid,
    xAxis: xAxis,
    yAxis: yAxis,
    series: series
};
option && myChart.setOption(option);
</script>
</body>
</html>
